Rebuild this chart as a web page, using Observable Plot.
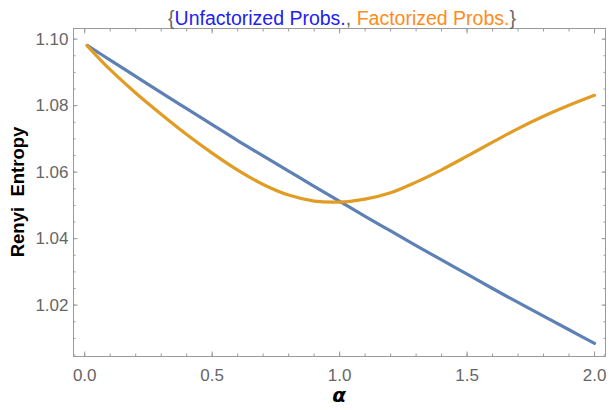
<!DOCTYPE html>
<html>
<head>
<meta charset="utf-8">
<script src="https://cdn.jsdelivr.net/npm/d3@7"></script>
<script src="https://cdn.jsdelivr.net/npm/@observablehq/plot@0.6"></script>
<style>
body { margin: 0; background: #fff; }
#chart { position: relative; width: 609px; height: 410px; }
</style>
</head>
<body>
<div id="chart"></div>
<script>
const alphas = [0.01, 0.1, 0.2, 0.3, 0.4, 0.5, 0.6, 0.7, 0.8, 0.9, 1.0, 1.1, 1.2, 1.3, 1.4, 1.5, 1.6, 1.7, 1.8, 1.9, 2.0];
const unfactorized = [1.0981, 1.0937, 1.0888, 1.0839, 1.0791, 1.0743, 1.0695, 1.0649, 1.0603, 1.0557, 1.0512, 1.0467, 1.0423, 1.0379, 1.0336, 1.0293, 1.0250, 1.0208, 1.0167, 1.0126, 1.0085];
const factorized = [1.0980, 1.0908, 1.0838, 1.0774, 1.0713, 1.0657, 1.0606, 1.0563, 1.0531, 1.0513, 1.0510, 1.0519, 1.0538, 1.0570, 1.0607, 1.0648, 1.0690, 1.0731, 1.0768, 1.0801, 1.0831];
const seriesNames = ["Unfactorized Probs.", "Factorized Probs."];
const seriesColors = ["#5e81b5", "#e19c24"];
const titleColors = ["#2222ee", "#ff8c1a"];
const xTicks = [0.0, 0.5, 1.0, 1.5, 2.0];
const yTicks = [1.02, 1.04, 1.06, 1.08, 1.10];
const xLabel = "α";
const yLabel = "Renyi  Entropy";

const xMinor = d3.range(0, 21).map(i => i / 10);
const yMinor = d3.range(1, 21).map(i => +(1.0 + i * 0.005).toFixed(3));

const rows = [];
alphas.forEach((a, i) => {
  rows.push({a, v: unfactorized[i], s: seriesNames[0]});
});
alphas.forEach((a, i) => {
  rows.push({a, v: factorized[i], s: seriesNames[1]});
});

const frameColor = "#9a9a9a";
const font = "Liberation Sans, Arial, sans-serif";
const plot = Plot.plot({
  width: 609,
  height: 410,
  marginLeft: 73,
  marginRight: 4,
  marginTop: 28,
  marginBottom: 54,
  x: {domain: [-0.044, 2.043]},
  y: {domain: [1.00455, 1.1032]},
  color: {domain: seriesNames, range: seriesColors},
  style: {fontFamily: font, background: "#fff"},
  marks: [
    Plot.frame({stroke: frameColor, strokeWidth: 1}),
    Plot.axisX(xTicks, {anchor: "bottom", tickSize: -4.5, stroke: frameColor, text: null, label: null}),
    Plot.axisX(xTicks, {anchor: "top", tickSize: -4.5, stroke: frameColor, text: null, label: null}),
    Plot.axisX(xMinor, {anchor: "bottom", tickSize: -2.5, stroke: frameColor, text: null, label: null}),
    Plot.axisX(xMinor, {anchor: "top", tickSize: -2.5, stroke: frameColor, text: null, label: null}),
    Plot.axisY(yTicks, {anchor: "left", tickSize: -4.5, stroke: frameColor, text: null, label: null}),
    Plot.axisY(yTicks, {anchor: "right", tickSize: -4.5, stroke: frameColor, text: null, label: null}),
    Plot.axisY(yMinor, {anchor: "left", tickSize: -2.5, stroke: frameColor, text: null, label: null}),
    Plot.axisY(yMinor, {anchor: "right", tickSize: -2.5, stroke: frameColor, text: null, label: null}),
    Plot.axisX(xTicks, {anchor: "bottom", tickSize: 0, tickPadding: 12, fontSize: 17, fill: "#666", tickFormat: d3.format(".1f"), label: null}),
    Plot.axisY(yTicks, {anchor: "left", tickSize: 0, tickPadding: 5, fontSize: 17, fill: "#666", tickFormat: d3.format(".2f"), label: null}),
    Plot.line(rows, {x: "a", y: "v", stroke: "s", strokeWidth: 3.2, curve: "catmull-rom"})
  ]
});

document.getElementById("chart").appendChild(plot);

const svg = d3.select(plot);
const title = svg.append("text")
  .attr("x", 342).attr("y", 25)
  .attr("text-anchor", "middle")
  .attr("font-size", 19.5)
  .attr("font-family", font);
title.append("tspan").attr("fill", "#666").text("{");
title.append("tspan").attr("fill", titleColors[0]).text(seriesNames[0]);
title.append("tspan").attr("fill", "#666").text(", ");
title.append("tspan").attr("fill", titleColors[1]).text(seriesNames[1]);
title.append("tspan").attr("fill", "#666").text("}");
svg.append("text")
  .attr("x", 339).attr("y", 402)
  .attr("text-anchor", "middle")
  .attr("font-size", 20).attr("font-weight", "bold").attr("font-style", "italic")
  .attr("font-family", "DejaVu Sans, sans-serif")
  .attr("fill", "#000")
  .text(xLabel);
svg.append("text")
  .attr("transform", "translate(24,192) rotate(-90)")
  .attr("text-anchor", "middle")
  .attr("font-size", 18.5).attr("font-weight", "bold")
  .attr("font-family", font)
  .attr("fill", "#000")
  .text(yLabel);
</script>
</body>
</html>
